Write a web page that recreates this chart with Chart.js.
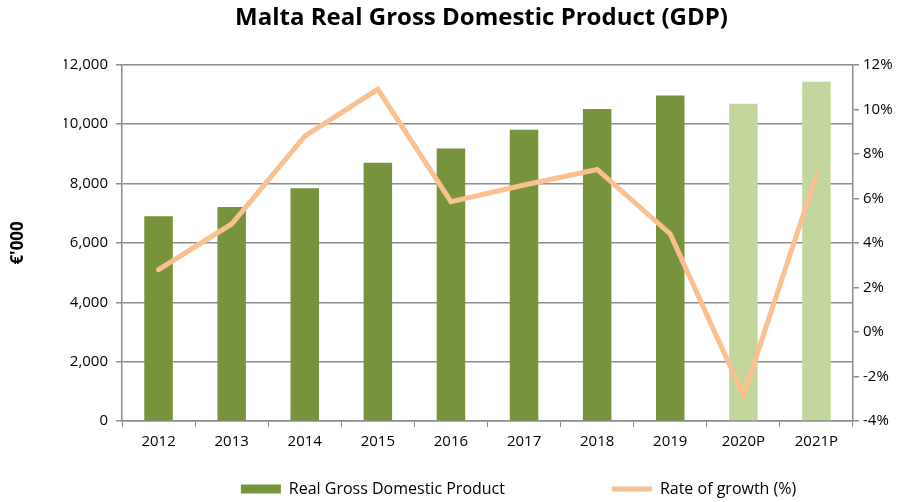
<!DOCTYPE html>
<html>
<head>
<meta charset="utf-8">
<script src="https://cdn.jsdelivr.net/npm/chart.js@4/dist/chart.umd.min.js"></script>
<style>
  html, body { margin: 0; padding: 0; background: #fff; }
  #wrap { width: 899px; height: 502px; }
</style>
</head>
<body>
<div id="wrap"><canvas id="myChart"></canvas></div>
<script>
const years = ['2012', '2013', '2014', '2015', '2016', '2017', '2018', '2019', '2020P', '2021P'];
const gdp = [6900, 7210, 7840, 8700, 9180, 9810, 10515, 10965, 10685, 11425];
const growth = [2.8, 4.85, 8.8, 10.9, 5.85, 6.6, 7.3, 4.4, -2.85, 7.05];
const gdpTicks = [0, 2000, 4000, 6000, 8000, 10000, 12000];
const growthTicks = [-4, -2, 0, 2, 4, 6, 8, 10, 12];

const FONT = '"Open Sans", Lato, sans-serif';
const gridColor = '#8c8c8c';
const barColors = years.map(y => y.endsWith('P') ? '#c3d69b' : '#77933c');

const ctx = document.getElementById('myChart').getContext('2d');

const myChart = new Chart(ctx, {
  type: 'bar',
  data: {
    labels: years,
    datasets: [
      {
        type: 'line',
        label: 'Rate of growth (%)',
        data: growth,
        yAxisID: 'y1',
        borderColor: '#fac090',
        backgroundColor: '#fac090',
        borderWidth: 5,
        borderCapStyle: 'round',
        borderJoinStyle: 'miter',
        pointRadius: 0,
        pointStyle: 'line',
        tension: 0,
        order: 0
      },
      {
        label: 'Real Gross Domestic Product',
        data: gdp,
        yAxisID: 'y',
        backgroundColor: barColors,
        borderColor: barColors,
        borderWidth: 0,
        pointStyle: 'rect',
        barPercentage: 0.39,
        categoryPercentage: 1,
        order: 1
      }
    ]
  },
  options: {
    responsive: true,
    maintainAspectRatio: false,
    animation: false,
    // left padding pushes the title centre over the plot like the original
    layout: { padding: { top: 4, bottom: 0, right: 0, left: 64 } },
    plugins: {
      title: {
        display: true,
        text: 'Malta Real Gross Domestic Product (GDP)',
        color: '#000',
        font: { family: FONT, size: 24, weight: 'bold' },
        padding: { top: 0, bottom: 32 }
      },
      legend: {
        position: 'bottom',
        align: 'end',
        reverse: true,
        maxHeight: 24,
        labels: {
          color: '#000',
          font: { family: FONT, size: 16 },
          usePointStyle: true,
          pointStyleWidth: 40,
          boxHeight: 9,
          padding: 3,
          // spread the two entries apart (gap after bar item, slack after line item)
          generateLabels: (chart) => {
            const items = Chart.defaults.plugins.legend.labels.generateLabels(chart);
            items.forEach((it) => {
              it.text = it.text + ' '.repeat(it.datasetIndex === 1 ? 25 : 24);
            });
            return items;
          }
        }
      },
      tooltip: { enabled: false }
    },
    scales: {
      x: {
        afterFit: (scale) => { scale.height = 57; },
        grid: {
          offset: true,
          drawOnChartArea: false,
          color: gridColor,
          tickLength: 6
        },
        border: { color: gridColor, width: 1.5 },
        ticks: { color: '#000', font: { family: FONT, size: 15 }, padding: 6, maxRotation: 0 }
      },
      y: {
        position: 'left',
        min: 0,
        max: 12000,
        afterBuildTicks: (scale) => { scale.ticks = gdpTicks.map(v => ({ value: v })); },
        afterFit: (scale) => { scale.width = 58; },
        grid: { color: gridColor, lineWidth: 1.5, tickLength: 6 },
        border: { color: gridColor, width: 1.5 },
        ticks: {
          color: '#000',
          font: { family: FONT, size: 15 },
          padding: 8,
          callback: (v) => v.toLocaleString('en-US')
        },
        title: {
          display: true,
          text: "€'000",
          color: '#000',
          font: { family: FONT, size: 17, weight: 'bold' },
          padding: { top: -56, bottom: 0 }
        }
      },
      y1: {
        position: 'right',
        min: -4,
        max: 12,
        afterBuildTicks: (scale) => { scale.ticks = growthTicks.map(v => ({ value: v })); },
        afterFit: (scale) => { scale.width = 46; },
        grid: { drawOnChartArea: false, color: gridColor, lineWidth: 1.5, tickLength: 6 },
        border: { color: gridColor, width: 1.5 },
        ticks: {
          color: '#000',
          font: { family: FONT, size: 15 },
          padding: 4,
          callback: (v) => v + '%'
        }
      }
    }
  }
});
</script>
</body>
</html>
